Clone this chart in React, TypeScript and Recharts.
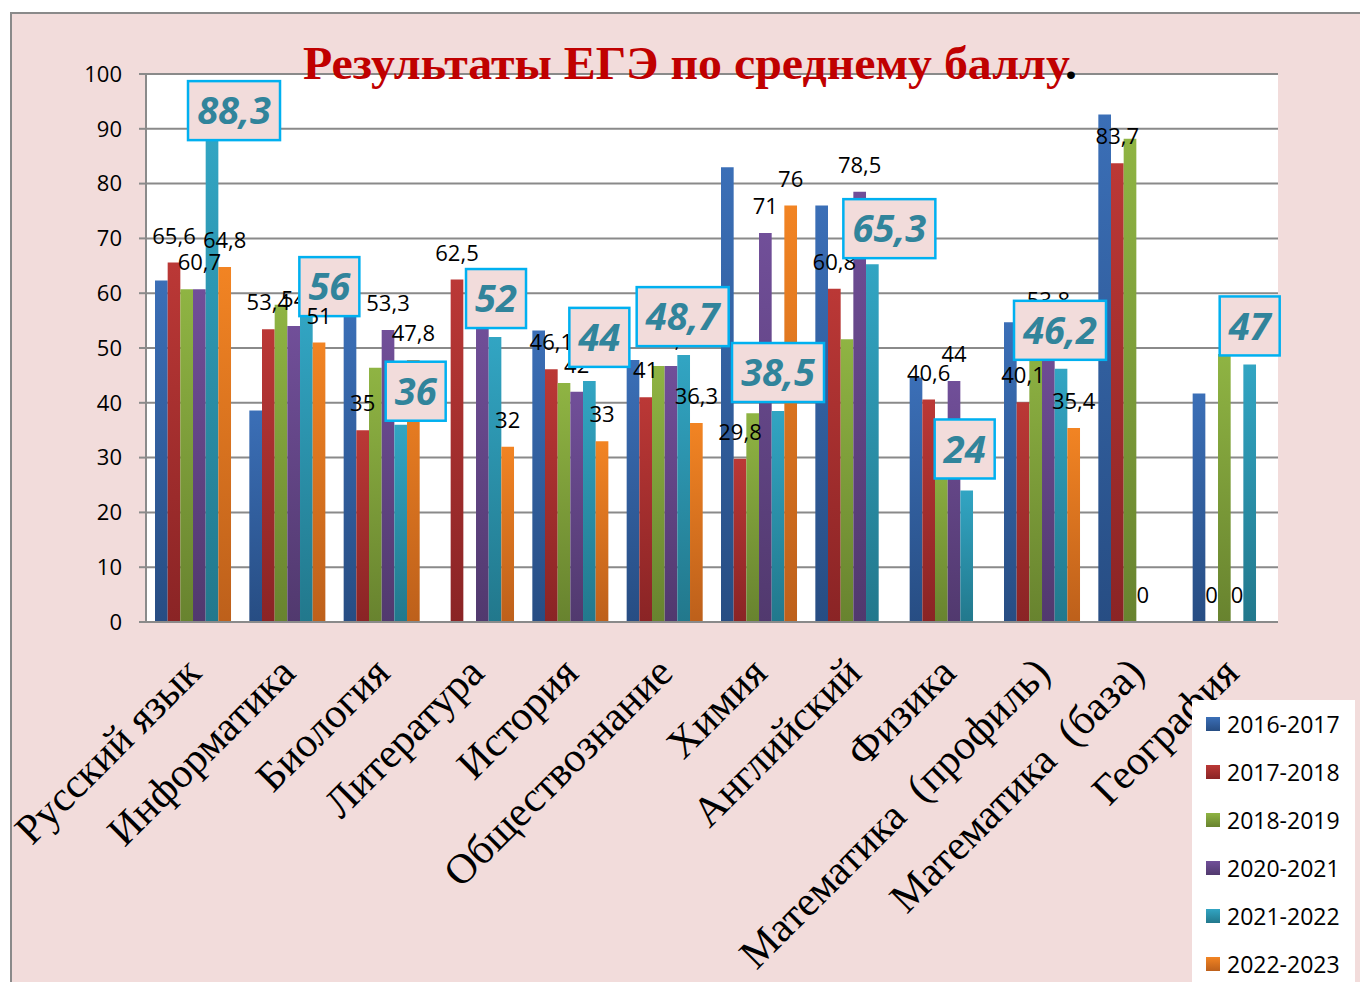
import React from 'react';
import { BarChart, Bar, XAxis, YAxis, CartesianGrid, LabelList } from 'recharts';

const categories = [
  'Русский язык',
  'Информатика',
  'Биология',
  'Литература',
  'История',
  'Обществознание',
  'Химия',
  'Английский',
  'Физика',
  'Математика  (профиль)',
  'Математика  (база)',
  'География',
];

const years = ['2016-2017', '2017-2018', '2018-2019', '2020-2021', '2021-2022', '2022-2023'];

const s2016 = [62.3, 38.6, 57, null, 53.2, 47.8, 83.0, 76.0, 44.6, 54.7, 92.6, 41.7];
const s2017 = [65.6, 53.4, 35, 62.5, 46.1, 41, 29.8, 60.8, 40.6, 40.1, 83.7, 0];
const s2018 = [60.7, 57.9, 46.4, null, 43.6, 46.7, 38.1, 51.6, 31, 52, 88.2, 48.9];
const s2020 = [60.7, 54, 53.3, 55, 42, 46.7, 71, 78.5, 44, 53.8, 0, 0];
const s2021 = [88.3, 56, 36, 52, 44, 48.7, 38.5, 65.3, 24, 46.2, null, 47];
const s2022 = [64.8, 51, 47.8, 32, 33, 36.3, 76, null, null, 35.4, null, null];

const yTicks = [0, 10, 20, 30, 40, 50, 60, 70, 80, 90, 100];

const seriesValues = [s2016, s2017, s2018, s2020, s2021, s2022];
const seriesKeys = ['y2016', 'y2017', 'y2018', 'y2020', 'y2021', 'y2022'];

const data = categories.map((name, i) => {
  const row: Record<string, any> = { name };
  seriesKeys.forEach((k, j) => {
    row[k] = seriesValues[j][i];
  });
  return row;
});

// styling
const palette = [
  { top: '#3b6fb7', bottom: '#274d83' },
  { top: '#bb3836', bottom: '#8a2425' },
  { top: '#8fb443', bottom: '#68832f' },
  { top: '#714f99', bottom: '#51396e' },
  { top: '#32a5c3', bottom: '#22788c' },
  { top: '#f28423', bottom: '#bd601b' },
];

// manual nudges of the highlighted boxes (Excel labels moved by hand)
const boxDx = [22, 23, 15, 1, 10, -1, 0, 17, -2, -1, 0, 0];
const boxDy = [11, 10, 5, 0, -5, 0, 0, 3, -3, 0, 0, 2];

const fmt = (v: number) => String(v).replace('.', ',');

// keeps zero-valued bars present so that their "0" labels are drawn
const zeroKeeper = (value: any) => (value === 0 ? 0.2 : 0);

const ValueLabel = (props: any) => {
  const { x, y, width, height, value } = props;
  if (value === null || value === undefined) return null;
  const top = Number(height) < 0 ? Number(y) + Number(height) : Number(y);
  return (
    <text
      x={Number(x) + Number(width) / 2}
      y={top - 19}
      textAnchor="middle"
      fontFamily="Open Sans"
      fontSize={22}
      fill="#000"
    >
      {fmt(value)}
    </text>
  );
};

const BoxLabel = (props: any) => {
  const { x, y, width, value, index } = props;
  if (value === null || value === undefined) return null;
  const txt = fmt(value);
  const w = txt.length > 2 ? 92 : 60;
  const h = 59;
  const cx = Number(x) + Number(width) / 2 + (boxDx[index] || 0);
  const bottom = Number(y) - 9 + (boxDy[index] || 0);
  return (
    <g>
      <rect x={cx - w / 2} y={bottom - h} width={w} height={h} fill="#f2dcdb" stroke="#00b0f0" strokeWidth={2.5} />
      <text
        x={cx}
        y={bottom - h / 2}
        dy="0.36em"
        textAnchor="middle"
        fontFamily="Open Sans"
        fontWeight={700}
        fontStyle="italic"
        fontSize={38}
        fill="#31849b"
      >
        {txt}
      </text>
    </g>
  );
};

const XTick = (props: any) => {
  const { x, y, payload } = props;
  const px = Number(x) + 10;
  const py = Number(y) + 53;
  return (
    <text
      x={px}
      y={py}
      transform={`rotate(-45 ${px} ${py})`}
      textAnchor="end"
      fontFamily="Liberation Serif"
      fontSize={42}
      fill="#000"
      style={{ whiteSpace: 'pre' }}
    >
      {payload.value}
    </text>
  );
};

export default function App() {
  return (
    <div style={{ position: 'absolute', left: 0, top: 0, width: 1360, height: 982, background: '#fff', overflow: 'hidden' }}>
      <div
        style={{
          position: 'absolute',
          left: 10,
          top: 12,
          width: 1360,
          height: 1000,
          background: '#f2dcdb',
          borderLeft: '2px solid #8a8a8a',
          borderTop: '2px solid #8a8a8a',
          boxSizing: 'border-box',
        }}
      />
      <div style={{ position: 'absolute', left: 0, top: 0 }}>
        <BarChart
          width={1360}
          height={982}
          data={data}
          margin={{ top: 74, right: 82, bottom: 0, left: 86 }}
          barCategoryGap="9.7%"
          barGap={0}
          barSize={12.67}
        >
          <defs>
            {palette.map((p, i) => (
              <linearGradient key={i} id={`grad${i}`} x1="0" y1="0" x2="0" y2="1">
                <stop offset="0%" stopColor={p.top} />
                <stop offset="100%" stopColor={p.bottom} />
              </linearGradient>
            ))}
          </defs>
          <CartesianGrid vertical={false} stroke="#8a8a8a" strokeWidth={2} fill="#ffffff" fillOpacity={1} />
          <XAxis
            dataKey="name"
            interval={0}
            tick={<XTick />}
            tickLine={false}
            tickSize={0}
            tickMargin={0}
            height={360}
            axisLine={{ stroke: '#8a8a8a', strokeWidth: 2 }}
          />
          <YAxis
            domain={[0, 100]}
            ticks={yTicks}
            width={60}
            tickSize={7}
            tickMargin={17}
            interval={0}
            axisLine={{ stroke: '#8a8a8a', strokeWidth: 2 }}
            tickLine={{ stroke: '#8a8a8a', strokeWidth: 2 }}
            tick={{ fontFamily: 'Open Sans', fontSize: 22, fill: '#000' }}
          />
          <Bar dataKey="y2016" name={years[0]} fill="url(#grad0)" isAnimationActive={false} />
          <Bar dataKey="y2017" name={years[1]} fill="url(#grad1)" minPointSize={zeroKeeper} isAnimationActive={false}>
            <LabelList dataKey="y2017" content={<ValueLabel />} />
          </Bar>
          <Bar dataKey="y2018" name={years[2]} fill="url(#grad2)" isAnimationActive={false} />
          <Bar dataKey="y2020" name={years[3]} fill="url(#grad3)" minPointSize={zeroKeeper} isAnimationActive={false}>
            <LabelList dataKey="y2020" content={<ValueLabel />} />
          </Bar>
          <Bar dataKey="y2021" name={years[4]} fill="url(#grad4)" isAnimationActive={false}>
            <LabelList dataKey="y2021" content={<BoxLabel />} />
          </Bar>
          <Bar dataKey="y2022" name={years[5]} fill="url(#grad5)" isAnimationActive={false}>
            <LabelList dataKey="y2022" content={<ValueLabel />} />
          </Bar>
        </BarChart>
      </div>
      <svg width={1360} height={120} style={{ position: 'absolute', left: 0, top: 0, pointerEvents: 'none' }}>
        <text
          x={303}
          y={79}
          fontFamily="Liberation Serif"
          fontWeight="bold"
          fontSize={47}
          fill="#c00000"
          textLength={774}
          lengthAdjust="spacingAndGlyphs"
        >
          Результаты ЕГЭ по среднему баллу<tspan fill="#000">.</tspan>
        </text>
      </svg>
      <div
        style={{
          position: 'absolute',
          left: 1192,
          top: 700,
          width: 163,
          height: 300,
          background: '#fff',
          fontFamily: 'Open Sans',
          fontSize: 23,
          color: '#000',
        }}
      >
        {years.map((yr, i) => (
          <div key={yr} style={{ position: 'absolute', left: 0, top: 24 + i * 48 - 16, height: 32 }}>
            <div
              style={{
                position: 'absolute',
                left: 14,
                top: 9,
                width: 14,
                height: 14,
                background: `linear-gradient(${palette[i].top}, ${palette[i].bottom})`,
              }}
            />
            <span style={{ position: 'absolute', left: 35, top: 0, lineHeight: '32px', whiteSpace: 'nowrap' }}>{yr}</span>
          </div>
        ))}
      </div>
    </div>
  );
}
